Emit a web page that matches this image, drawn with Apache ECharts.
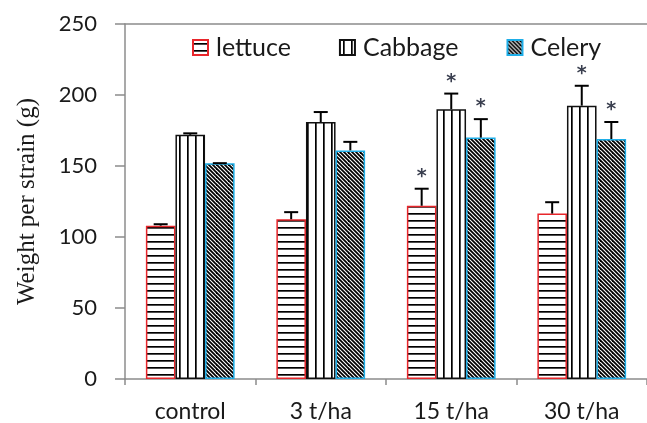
<!DOCTYPE html>
<html>
<head>
<meta charset="utf-8">
<script src="https://cdn.jsdelivr.net/npm/echarts@6/dist/echarts.min.js"></script>
<style>html,body{margin:0;padding:0;background:#fff;}#c{width:647px;height:423px;}</style>
</head>
<body>
<div id="c"></div>
<script>
// ---- data ----
const categories = ['control', '3 t/ha', '15 t/ha', '30 t/ha'];
const lettuce = [108, 112.5, 122, 116.5];
const lettuceErr = [1, 5, 12, 8];
const lettuceSig = [0, 0, 1, 0];
const cabbage = [172, 181, 190, 192.5];
const cabbageErr = [1, 7, 11, 14];
const cabbageSig = [0, 0, 1, 1];
const celery = [152, 161, 170, 169];
const celeryErr = [0, 6, 13, 12];
const celerySig = [0, 0, 1, 1];
const yTicks = [0, 50, 100, 150, 200, 250];

const GAP = 0.32;
const LABEL_FONT = 'Lato';

function makePattern(kind) {
  const c = document.createElement('canvas');
  const ctx = c.getContext('2d');
  if (kind === 'h') {
    c.width = 10; c.height = 7;
    ctx.fillStyle = '#fff'; ctx.fillRect(0, 0, 10, 7);
    ctx.fillStyle = '#000'; ctx.fillRect(0, 3, 10, 1.7);
  } else if (kind === 'v') {
    c.width = 8; c.height = 10;
    ctx.fillStyle = '#fff'; ctx.fillRect(0, 0, 8, 10);
    ctx.fillStyle = '#000'; ctx.fillRect(3, 0, 1.7, 10);
  } else {
    c.width = 12; c.height = 12;
    ctx.fillStyle = '#fff'; ctx.fillRect(0, 0, 12, 12);
    ctx.strokeStyle = '#000'; ctx.lineWidth = 1.8;
    for (let k = -16; k <= 16; k += 4) {
      ctx.beginPath(); ctx.moveTo(k - 2, -2); ctx.lineTo(k + 14, 14); ctx.stroke();
    }
  }
  return { image: c, repeat: 'repeat' };
}

const seriesDefs = [
  { name: 'lettuce', vals: lettuce, err: lettuceErr, sig: lettuceSig, fill: makePattern('h'), border: '#e8262b' },
  { name: 'Cabbage', vals: cabbage, err: cabbageErr, sig: cabbageSig, fill: makePattern('v'), border: '#111' },
  { name: 'Celery', vals: celery, err: celeryErr, sig: celerySig, fill: makePattern('d'), border: '#1eaee8' }
];

const series = [];
seriesDefs.forEach(function (s) {
  series.push({
    name: s.name, type: 'bar', data: s.vals,
    barGap: '0%', barCategoryGap: (GAP * 100) + '%',
    itemStyle: { color: s.fill, borderColor: s.border, borderWidth: 1.5 },
    z: 2
  });
});
seriesDefs.forEach(function (s, idx) {
  series.push({
    type: 'custom', name: s.name + '_err', z: 5, silent: true,
    encode: { x: 0, y: 1 },
    data: s.vals.map(function (v, i) { return [i, v, s.err[i], s.sig[i]]; }),
    renderItem: function (params, api) {
      const x = api.value(0), v = api.value(1), e = api.value(2), sg = api.value(3);
      const top = api.coord([x, v + e]);
      const base = api.coord([x, v]);
      const band = api.size([1, 0])[0];
      const group = band * (1 - GAP);
      const bw = group / 3;
      const cx = top[0] - group / 2 + bw * (idx + 0.5);
      const children = [];
      if (e > 0) {
        children.push({ type: 'line', shape: { x1: cx, y1: base[1], x2: cx, y2: top[1] }, style: { stroke: '#000', lineWidth: 2 } });
      }
      children.push({ type: 'line', shape: { x1: cx - 7, y1: top[1], x2: cx + 7, y2: top[1] }, style: { stroke: '#000', lineWidth: 2 } });
      if (sg) {
        children.push({ type: 'text', x: cx, y: top[1] - 12, style: { text: '*', fill: '#3a3f4f', font: 'bold 19px "DejaVu Sans"', align: 'center', verticalAlign: 'middle' } });
      }
      return { type: 'group', children: children };
    }
  });
});

const chart = echarts.init(document.getElementById('c'), null, { renderer: 'canvas' });
chart.setOption({
  animation: false,
  backgroundColor: '#fff',
  grid: { left: 125, right: 0, top: 24, bottom: 44, containLabel: false, outerBoundsMode: 'none' },
  legend: {
    data: seriesDefs.map(function (s) { return s.name; }),
    left: 192, top: 35, padding: 0,
    itemWidth: 15, itemHeight: 15, itemGap: 48,
    icon: 'rect',
    textStyle: { fontFamily: LABEL_FONT, fontSize: 25, color: '#1a1a1a', padding: [0, 0, 0, 3] }
  },
  xAxis: [{
    type: 'category', data: categories,
    axisLine: { lineStyle: { color: '#8c8c8c', width: 1.5 } },
    axisTick: { show: true, length: 6, lineStyle: { color: '#8c8c8c', width: 1.5 } },
    axisLabel: { fontFamily: LABEL_FONT, fontSize: 23, color: '#1a1a1a', margin: 21 }
  }, {
    type: 'category', data: categories, position: 'top',
    axisLine: { show: true, lineStyle: { color: '#8c8c8c', width: 1.5 } },
    axisTick: { show: false }, axisLabel: { show: false }
  }],
  yAxis: {
    type: 'value', min: yTicks[0], max: yTicks[yTicks.length - 1], interval: 50,
    name: 'Weight per strain (g)', nameLocation: 'middle', nameGap: 85,
    nameTextStyle: { fontFamily: 'Liberation Serif', fontSize: 25, color: '#1a1a1a' },
    axisLine: { show: true, lineStyle: { color: '#8c8c8c', width: 1.5 } },
    axisTick: { show: true, length: 10, lineStyle: { color: '#8c8c8c', width: 1.5 } },
    axisLabel: { fontFamily: LABEL_FONT, fontSize: 22, color: '#1a1a1a', margin: 28 },
    splitLine: { show: false }
  },
  series: series
});
</script>
</body>
</html>
